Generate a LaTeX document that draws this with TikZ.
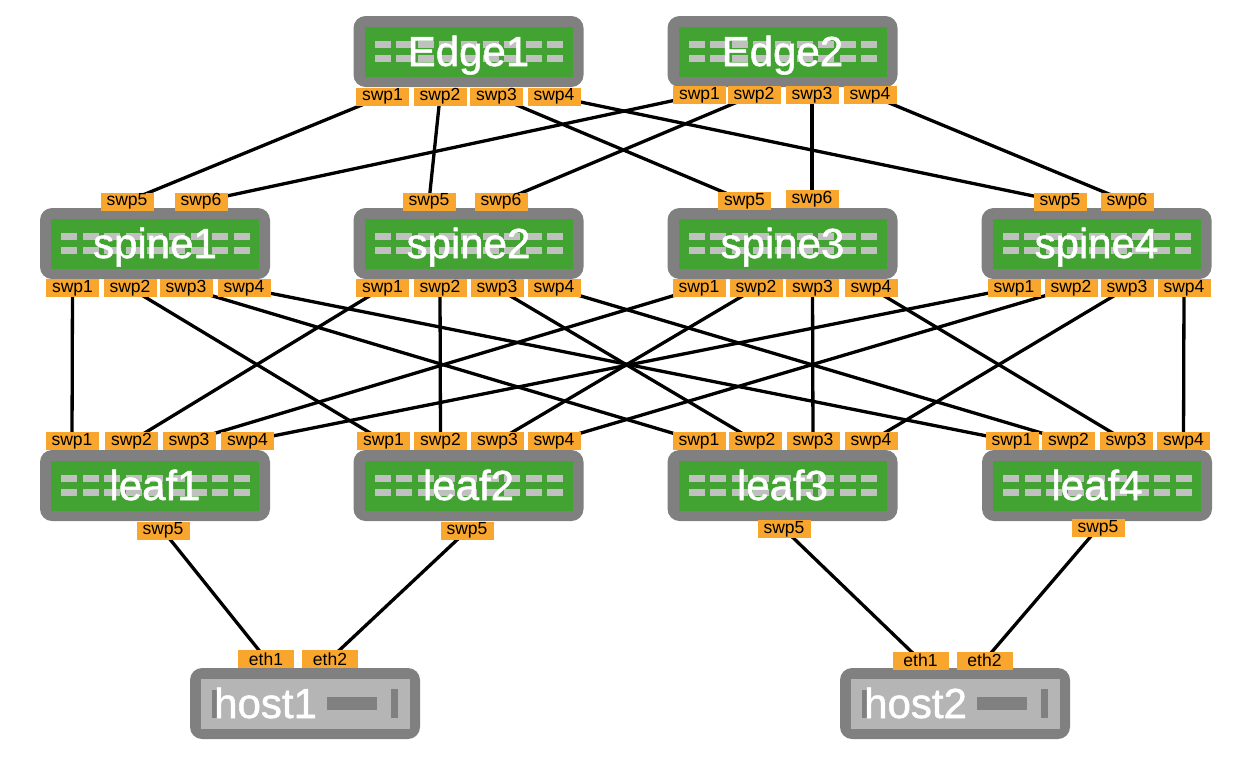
\documentclass[tikz,border=0pt]{standalone}
\usepackage{fontspec}
\newfontfamily\labfont{Liberation Sans}
\newfontfamily\titlefont[FakeBold=1.2]{Liberation Sans}
\pgfdeclarelayer{bottom}
\pgfdeclarelayer{background}
\pgfsetlayers{bottom,background,main}
\definecolor{boxgray}{RGB}{128,128,128}
\definecolor{swgreen}{RGB}{66,163,50}
\definecolor{portorange}{RGB}{248,166,46}
\definecolor{dashgray}{RGB}{192,192,192}
\definecolor{hostlight}{RGB}{181,181,181}
\tikzset{
  swouter/.style={shape=rectangle, fill=boxgray, rounded corners=12pt, minimum width=230pt, minimum height=71pt, inner sep=0pt},
  swinner/.style={shape=rectangle, fill=swgreen, minimum width=208pt, minimum height=50pt, inner sep=0pt},
  hostinner/.style={shape=rectangle, fill=hostlight, minimum width=209pt, minimum height=50pt, inner sep=0pt},
  dashc/.style={fill=dashgray},
  hostbar/.style={fill=boxgray},
  titletxt/.style={anchor=base, inner sep=0pt, text=white, font=\titlefont\fontsize{42}{50}\selectfont},
  htitletxt/.style={anchor=base west, inner sep=0pt, text=white, font=\titlefont\fontsize{42}{50}\selectfont},
  port/.style={shape=rectangle, fill=portorange, minimum width=53pt, minimum height=18pt, inner sep=0pt, text=black, font=\labfont\fontsize{17.5}{18}\selectfont},
  eport/.style={port, minimum width=56pt},
  link/.style={draw=black, line width=3.3pt}
}
\newcommand\mkswitch[4]{%
  \node[swouter] (#1) at (#2,#3) {};
  \node[swinner] (#1-in) at (#2,#3) {};
  \foreach \k in {0,...,8} {
    \fill[dashc] ({#2-94+\k*21.6},{#3-10.5}) rectangle ++(16,7);
    \fill[dashc] ({#2-94+\k*21.6},{#3+3.5}) rectangle ++(16,7);
  }
  \node[titletxt] (#1-t) at (#2,{#3+14.5}) {#4};
}
\newcommand\mkhost[4]{%
  \node[swouter] (#1) at (#2,#3) {};
  \node[hostinner] (#1-in) at (#2,#3) {};
  \fill[hostbar] ({#2-93},{#3-13.5}) rectangle ++(6,28);
  \fill[hostbar] ({#2+22},{#3-6.5}) rectangle ++(50,13);
  \fill[hostbar] ({#2+86},{#3-14.5}) rectangle ++(7,29);
  \node[htitletxt] (#1-t) at ({#2-91},{#3+14.5}) {#4};
}
\begin{document}
\begin{tikzpicture}[x=1pt,y=-1pt]
\begin{pgfonlayer}{bottom}
\fill[white] (0,0) rectangle (1236,764);
\end{pgfonlayer}
\useasboundingbox (0,0) rectangle (1236,764);
% switches
\mkswitch{e1}{468.5}{51.5}{Edge1}
\mkswitch{e2}{782.5}{51.5}{Edge2}
\mkswitch{s1}{155}{243.5}{spine1}
\mkswitch{s2}{468.5}{243.5}{spine2}
\mkswitch{s3}{782.5}{243.5}{spine3}
\mkswitch{s4}{1096.5}{243.5}{spine4}
\mkswitch{l1}{155}{485.5}{leaf1}
\mkswitch{l2}{468.5}{485.5}{leaf2}
\mkswitch{l3}{782.5}{485.5}{leaf3}
\mkswitch{l4}{1097}{485.5}{leaf4}
\mkhost{h1}{305}{703.5}{host1}
\mkhost{h2}{955}{703.5}{host2}
% ports
\node[port] (e1-1) at (382.5,96.5) {swp1};
\node[port] (e1-2) at (440,96.5) {swp2};
\node[port] (e1-3) at (496.5,96.5) {swp3};
\node[port] (e1-4) at (554,96.5) {swp4};
\node[port] (e2-1) at (699.5,95) {swp1};
\node[port] (e2-2) at (754,95) {swp2};
\node[port] (e2-3) at (812,95) {swp3};
\node[port] (e2-4) at (870,95) {swp4};
\node[port] (s1-5) at (127,201.5) {swp5};
\node[port] (s1-6) at (201,201.5) {swp6};
\node[port] (s2-5) at (429,201.5) {swp5};
\node[port] (s2-6) at (501,201.5) {swp6};
\node[port] (s3-5) at (744.5,201) {swp5};
\node[port] (s3-6) at (812,199) {swp6};
\node[port] (s4-5) at (1060,201.5) {swp5};
\node[port] (s4-6) at (1127,201.5) {swp6};
\node[port] (s1-1) at (72.5,288) {swp1};
\node[port] (s1-2) at (130,288) {swp2};
\node[port] (s1-3) at (186,288) {swp3};
\node[port] (s1-4) at (244,288) {swp4};
\node[port] (s2-1) at (382.5,288) {swp1};
\node[port] (s2-2) at (440,288) {swp2};
\node[port] (s2-3) at (497,288) {swp3};
\node[port] (s2-4) at (554,288) {swp4};
\node[port] (s3-1) at (699,288) {swp1};
\node[port] (s3-2) at (756,288) {swp2};
\node[port] (s3-3) at (812.5,288) {swp3};
\node[port] (s3-4) at (871,288) {swp4};
\node[port] (s4-1) at (1014,288) {swp1};
\node[port] (s4-2) at (1071,288) {swp2};
\node[port] (s4-3) at (1127,288) {swp3};
\node[port] (s4-4) at (1184,288) {swp4};
\node[port] (l1-1) at (72,441) {swp1};
\node[port] (l1-2) at (131.5,441) {swp2};
\node[port] (l1-3) at (189,441) {swp3};
\node[port] (l1-4) at (247.5,441) {swp4};
\node[port] (l2-1) at (383.5,441) {swp1};
\node[port] (l2-2) at (440.5,441) {swp2};
\node[port] (l2-3) at (497.5,441) {swp3};
\node[port] (l2-4) at (554,441) {swp4};
\node[port] (l3-1) at (699,441) {swp1};
\node[port] (l3-2) at (755,441) {swp2};
\node[port] (l3-3) at (813,441) {swp3};
\node[port] (l3-4) at (871,441) {swp4};
\node[port] (l4-1) at (1012,441) {swp1};
\node[port] (l4-2) at (1068.5,441) {swp2};
\node[port] (l4-3) at (1126,441) {swp3};
\node[port] (l4-4) at (1183.5,441) {swp4};
\node[port] (l1-5) at (163,530.5) {swp5};
\node[port] (l2-5) at (467,530.5) {swp5};
\node[port] (l3-5) at (784,529) {swp5};
\node[port] (l4-5) at (1098,528) {swp5};
\node[eport] (h1-1) at (266,659) {eth1};
\node[eport] (h1-2) at (330,659) {eth2};
\node[eport] (h2-1) at (920.5,660.5) {eth1};
\node[eport] (h2-2) at (984.5,660.5) {eth2};
% links
\begin{pgfonlayer}{background}
\draw[link] (e1-1.center) -- (s1-5.center);
\draw[link] (e1-2.center) -- (s2-5.center);
\draw[link] (e1-3.center) -- (s3-5.center);
\draw[link] (e1-4.center) -- (s4-5.center);
\draw[link] (e2-1.center) -- (s1-6.center);
\draw[link] (e2-2.center) -- (s2-6.center);
\draw[link] (e2-3.center) -- (s3-6.center);
\draw[link] (e2-4.center) -- (s4-6.center);
\foreach \s in {1,2,3,4} {
  \foreach \l in {1,2,3,4} {
    \draw[link] (s\s-\l.center) -- (l\l-\s.center);
  }
}
\draw[link] (l1-5.center) -- (h1-1.center);
\draw[link] (l2-5.center) -- (h1-2.center);
\draw[link] (l3-5.center) -- (h2-1.center);
\draw[link] (l4-5.center) -- (h2-2.center);
\end{pgfonlayer}
\end{tikzpicture}
\end{document}
